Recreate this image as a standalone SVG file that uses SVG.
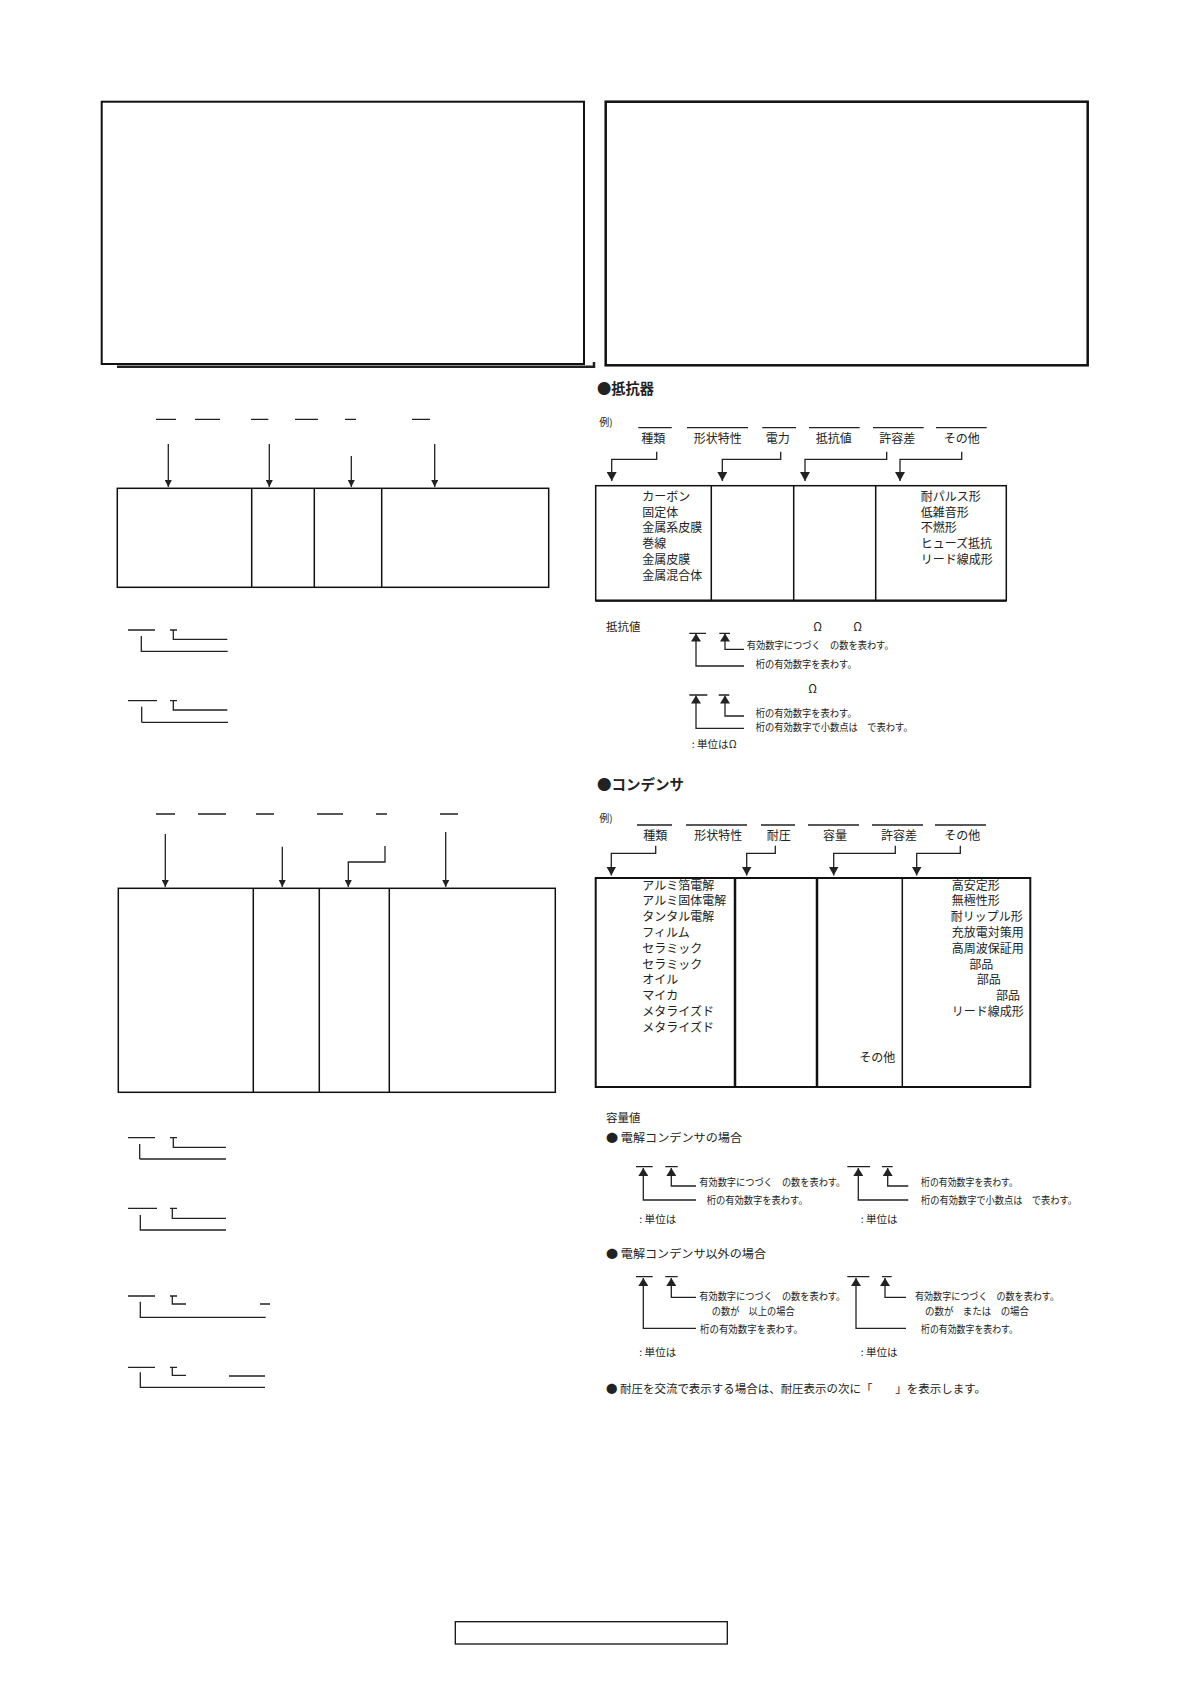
<svg xmlns="http://www.w3.org/2000/svg" width="1190" height="1684" viewBox="0 0 1190 1684">
<style>
text{font-family:"Noto Sans CJK JP","Noto Sans",sans-serif;fill:#222}
.t12{font-size:12px}
.t11{font-size:11.5px}
.s{font-size:10px}
.h{font-size:14.5px;font-weight:bold}
.ln{fill:none;stroke:#222;stroke-width:1.3}
.box{fill:none;stroke:#111}
</style>
<defs>
<marker id="aS" markerUnits="userSpaceOnUse" markerWidth="7" markerHeight="7" refX="7" refY="3.5" orient="auto"><path d="M0,0 L7,3.5 L0,7 z" fill="#222"/></marker>
<marker id="aM" markerUnits="userSpaceOnUse" markerWidth="9" markerHeight="10" refX="9" refY="5" orient="auto"><path d="M0,0 L9,5 L0,10 z" fill="#222"/></marker>
<marker id="aU" markerUnits="userSpaceOnUse" markerWidth="8" markerHeight="10" refX="8" refY="5" orient="auto"><path d="M0,0 L8,5 L0,10 z" fill="#222"/></marker>
</defs>
<rect width="1190" height="1684" fill="#fff"/>

<g id="frame-left">
<rect class="box" x="101.7" y="101.7" width="482.3" height="262.3" stroke-width="2"/>
<path d="M117,366.7 H594 V362" fill="none" stroke="#222" stroke-width="2.5"/>
</g>
<g id="frame-right">
<rect class="box" x="605.7" y="101.7" width="482" height="263.6" stroke-width="2.5"/>
</g>

<g id="left-table-1">
<rect class="box" x="117.3" y="488.3" width="431.4" height="99" stroke-width="1.5"/>
<path d="M251.7,488.3 V587.3 M314.3,488.3 V587.3 M381.7,488.3 V587.3" stroke="#111" stroke-width="1.5"/>
</g>
<g id="left-table-2">
<rect class="box" x="118.3" y="888.3" width="437" height="204" stroke-width="1.5"/>
<path d="M253.3,888.3 V1092.3 M319.3,888.3 V1092.3 M389.3,888.3 V1092.3" stroke="#111" stroke-width="1.5"/>
</g>

<g id="resistor-section">
<text class="h" x="597" y="394" textLength="57" lengthAdjust="spacingAndGlyphs">●抵抗器</text>
<text class="s" x="599.3" y="426">例)</text>
<g class="t12" text-anchor="middle">
<text x="653.3" y="442.5">種類</text>
<text x="717.7" y="442.5">形状特性</text>
<text x="777.7" y="442.5">電力</text>
<text x="833.7" y="442.5">抵抗値</text>
<text x="897.3" y="442.5">許容差</text>
<text x="961.7" y="442.5">その他</text>
</g>
</g>
<g id="resistor-table">
<rect class="box" x="595.7" y="485.7" width="410.6" height="115" stroke-width="1.5"/>
<path d="M595.7,600.7 H1006.3" stroke="#111" stroke-width="2.3"/>
<path d="M711.3,485.7 V600.7 M793.7,485.7 V600.7 M875.7,485.7 V600.7" stroke="#111" stroke-width="1.5"/>
<g class="t12">
<text x="642.3" y="501">カーボン</text>
<text x="642.3" y="516.7">固定体</text>
<text x="642.3" y="532.4">金属系皮膜</text>
<text x="642.3" y="548.1">巻線</text>
<text x="642.3" y="563.8">金属皮膜</text>
<text x="642.3" y="579.5">金属混合体</text>
<text x="920.7" y="501">耐パルス形</text>
<text x="920.7" y="516.7">低雑音形</text>
<text x="920.7" y="532.4">不燃形</text>
<text x="920.7" y="548.1">ヒューズ抵抗</text>
<text x="920.7" y="563.8">リード線成形</text>
</g>
</g>

<g id="resistor-value">
<text class="t11" x="606" y="630.5">抵抗値</text>
<text class="t11" x="813.3" y="630.5">Ω</text>
<text class="t11" x="853.3" y="630.5">Ω</text>
<text class="s" x="746.7" y="649" textLength="147" lengthAdjust="spacingAndGlyphs">有効数字につづく　の数を表わす。</text>
<text class="s" x="755.7" y="668" textLength="101" lengthAdjust="spacingAndGlyphs">桁の有効数字を表わす。</text>
<text class="t11" x="808.3" y="693">Ω</text>
<text class="s" x="755.7" y="716.5" textLength="101" lengthAdjust="spacingAndGlyphs">桁の有効数字を表わす。</text>
<text class="s" x="755.7" y="730.5" textLength="157" lengthAdjust="spacingAndGlyphs">桁の有効数字で小数点は　で表わす。</text>
<text class="s" x="691.7" y="747.5" textLength="45" lengthAdjust="spacingAndGlyphs">: 単位はΩ</text>
</g>

<g id="capacitor-section">
<text class="h" x="597" y="790" textLength="87" lengthAdjust="spacingAndGlyphs">●コンデンサ</text>
<text class="s" x="599.3" y="821.5">例)</text>
<g class="t12" text-anchor="middle">
<text x="655.3" y="840">種類</text>
<text x="718.3" y="840">形状特性</text>
<text x="778.7" y="840">耐圧</text>
<text x="835" y="840">容量</text>
<text x="899" y="840">許容差</text>
<text x="962.3" y="840">その他</text>
</g>
</g>
<g id="capacitor-table">
<rect class="box" x="595.7" y="878" width="434.6" height="209" stroke-width="2"/>
<path d="M735,878 V1087 M817,878 V1087" stroke="#111" stroke-width="2.5"/>
<path d="M902.3,878 V1087" stroke="#111" stroke-width="1.5"/>
<g class="t12">
<text x="642.3" y="889.5">アルミ箔電解</text>
<text x="642.3" y="905.3">アルミ固体電解</text>
<text x="642.3" y="921.1">タンタル電解</text>
<text x="642.3" y="936.9">フィルム</text>
<text x="642.3" y="952.7">セラミック</text>
<text x="642.3" y="968.5">セラミック</text>
<text x="642.3" y="984.3">オイル</text>
<text x="642.3" y="1000.1">マイカ</text>
<text x="642.3" y="1015.9">メタライズド</text>
<text x="642.3" y="1031.7">メタライズド</text>
<text x="859.3" y="1062">その他</text>
<text x="951.7" y="889.5">高安定形</text>
<text x="951.7" y="905.3">無極性形</text>
<text x="950.7" y="921.1">耐リップル形</text>
<text x="951.7" y="936.9">充放電対策用</text>
<text x="951.7" y="952.7">高周波保証用</text>
<text x="969.3" y="968.5">部品</text>
<text x="976.7" y="984.3">部品</text>
<text x="996" y="1000.1">部品</text>
<text x="951.7" y="1015.9">リード線成形</text>
</g>
</g>

<g id="capacitance-value">
<text class="t11" x="606" y="1121.5">容量値</text>
<text class="t11" x="606" y="1142" textLength="136" lengthAdjust="spacingAndGlyphs">● 電解コンデンサの場合</text>
<text class="s" x="699.3" y="1186" textLength="146" lengthAdjust="spacingAndGlyphs">有効数字につづく　の数を表わす。</text>
<text class="s" x="706.7" y="1204" textLength="101" lengthAdjust="spacingAndGlyphs">桁の有効数字を表わす。</text>
<text class="s" x="639.3" y="1223" textLength="37" lengthAdjust="spacingAndGlyphs">: 単位は</text>
<text class="s" x="921" y="1186" textLength="97" lengthAdjust="spacingAndGlyphs">桁の有効数字を表わす。</text>
<text class="s" x="921" y="1204" textLength="156" lengthAdjust="spacingAndGlyphs">桁の有効数字で小数点は　で表わす。</text>
<text class="s" x="860.7" y="1223" textLength="37" lengthAdjust="spacingAndGlyphs">: 単位は</text>
<text class="t11" x="606" y="1257.5" textLength="160" lengthAdjust="spacingAndGlyphs">● 電解コンデンサ以外の場合</text>
<text class="s" x="699.3" y="1299.5" textLength="146" lengthAdjust="spacingAndGlyphs">有効数字につづく　の数を表わす。</text>
<text class="s" x="711.7" y="1315" textLength="83" lengthAdjust="spacingAndGlyphs">の数が　以上の場合</text>
<text class="s" x="700" y="1333" textLength="103" lengthAdjust="spacingAndGlyphs">桁の有効数字を表わす。</text>
<text class="s" x="639.3" y="1356" textLength="37" lengthAdjust="spacingAndGlyphs">: 単位は</text>
<text class="s" x="915" y="1299.5" textLength="144" lengthAdjust="spacingAndGlyphs">有効数字につづく　の数を表わす。</text>
<text class="s" x="925" y="1315" textLength="104" lengthAdjust="spacingAndGlyphs">の数が　または　の場合</text>
<text class="s" x="921" y="1333" textLength="97" lengthAdjust="spacingAndGlyphs">桁の有効数字を表わす。</text>
<text class="s" x="860.7" y="1356" textLength="37" lengthAdjust="spacingAndGlyphs">: 単位は</text>
<text class="t11" x="606" y="1393" textLength="380" lengthAdjust="spacingAndGlyphs">● 耐圧を交流で表示する場合は、耐圧表示の次に「　　」を表示します。</text>
</g>

<g id="footer-box">
<rect class="box" x="455.3" y="1621.7" width="272" height="22.3" stroke-width="1.3"/>
</g>

<g id="connectors">
<path class="ln" stroke-width="1.2" d="M156,419.3 H176 M195,419.3 H220 M251,419.3 H268.3 M295,419.3 H318 M345,419.3 H356 M412,419.3 H430"/>
<path class="ln" stroke-width="1.5" marker-end="url(#aS)" d="M168.3,444 V487"/>
<path class="ln" stroke-width="1.5" marker-end="url(#aS)" d="M269.3,444 V487"/>
<path class="ln" stroke-width="1.5" marker-end="url(#aS)" d="M351.3,456 V487"/>
<path class="ln" stroke-width="2.5" marker-end="url(#aS)" d="M434.7,444 V487"/>
<path class="ln" d="M128,630 H155 M170,630 H177 M173.3,630 V639.3 H227.3 M141.3,636 V651.3 H227.7"/>
<path class="ln" d="M128,700.7 H157 M170,700.7 H177 M173.3,700.7 V710 H227.3 M141.7,722.3 H228"/>
<path class="ln" stroke-width="2.2" d="M141.7,706.7 V722.3"/>
<path class="ln" stroke-width="1.2" d="M156,814 H175 M198,814 H226 M256,814 H274 M317,814 H343 M376,814 H387 M440,814 H458"/>
<path class="ln" stroke-width="1.5" marker-end="url(#aS)" d="M165.3,834 V887"/>
<path class="ln" stroke-width="1.5" marker-end="url(#aS)" d="M282.3,846.7 V887"/>
<path class="ln" stroke-width="1.5" marker-end="url(#aS)" d="M385,846 V862 H348.3 V887"/>
<path class="ln" stroke-width="2.5" marker-end="url(#aS)" d="M445.7,832 V887"/>
<path class="ln" d="M128,1137.7 H155 M170,1137.7 H177 M173.3,1137.7 V1147.3 H226 M139.7,1144 V1159"/>
<path class="ln" stroke-width="2.2" d="M139.7,1159 H226"/>
<path class="ln" d="M128,1208.3 H157 M170,1208.3 H177 M172.3,1208.3 V1218.3 H226 M140.3,1215 V1230 H226"/>
<path class="ln" d="M128,1296 H155 M170,1296 H177 M172.3,1296 V1304 H186 M260,1304 H270 M140.3,1301.7 V1317.3 H265.7"/>
<path class="ln" d="M128,1367.3 H155 M170,1367.3 H177 M172.3,1367.3 V1375.3 H186 M140.3,1372.3 V1387.3 H265"/>
<path class="ln" stroke-width="2.4" d="M229,1376 H265"/>
<path class="ln" stroke-width="1.5" d="M638.3,427.7 H671.7 M687,427.7 H748 M762.3,427.7 H796 M809,427.7 H859.7"/>
<path class="ln" stroke-width="2.3" d="M873,427.7 H923.7 M936,427.7 H986.7"/>
<path class="ln" marker-end="url(#aM)" d="M656.7,451.7 V459.3 H611.7 V481"/>
<path class="ln" marker-end="url(#aM)" d="M780.7,451.7 V459.3 H722.3 V481"/>
<path class="ln" marker-end="url(#aM)" d="M886.7,451.7 V459.3 H805 V481"/>
<path class="ln" marker-end="url(#aM)" d="M961.7,451.7 V459.3 H900 V481"/>
<path class="ln" d="M689.3,633.3 H706 M719.3,633.3 H730 M689.3,695 H707.3 M718.7,695 H729.3"/>
<path class="ln" marker-end="url(#aU)" d="M744,649.3 H725 V633.5"/>
<path class="ln" marker-end="url(#aU)" d="M744,666 H696 V633.5"/>
<path class="ln" marker-end="url(#aU)" d="M744,716 H725 V695.5"/>
<path class="ln" marker-end="url(#aU)" d="M744,728.3 H696 V695.5"/>
<path class="ln" stroke-width="1.3" d="M637,825 H672 M686,825 H747 M872,825 H923 M935,825 H986"/>
<path class="ln" stroke-width="2.5" d="M761,825 H795 M808,825 H859"/>
<path class="ln" marker-end="url(#aM)" d="M655.7,845.7 V853.3 H611.3 V875.5"/>
<path class="ln" marker-end="url(#aM)" d="M775.3,845.7 V853.3 H746.7 V875.5"/>
<path class="ln" marker-end="url(#aM)" d="M895.3,845.7 V853.3 H833.7 V875.5"/>
<path class="ln" marker-end="url(#aM)" d="M960.3,845.7 V853.3 H916.7 V875.5"/>
<path class="ln" stroke-width="2.5" d="M636,1166.7 H652.7 M665.3,1166.7 H677.7 M847.3,1166.7 H870 M882,1166.7 H892.7"/>
<path class="ln" marker-end="url(#aU)" d="M696,1186 H671.3 V1168"/>
<path class="ln" marker-end="url(#aU)" d="M696,1200 H643.3 V1168"/>
<path class="ln" marker-end="url(#aU)" d="M908.3,1186 H887.7 V1168"/>
<path class="ln" marker-end="url(#aU)" d="M908.3,1200 H858.3 V1168"/>
<path class="ln" stroke-width="2.5" d="M636,1276.7 H652.7 M665.3,1276.7 H677.7"/>
<path class="ln" d="M847.3,1276.7 H869.3 M882,1276.7 H891.7"/>
<path class="ln" marker-end="url(#aU)" d="M696,1297.3 H671.3 V1278"/>
<path class="ln" marker-end="url(#aU)" d="M696,1328.3 H643.3 V1278"/>
<path class="ln" marker-end="url(#aU)" d="M906,1297.3 H885 V1278"/>
<path class="ln" marker-end="url(#aU)" d="M906,1328.3 H856 V1278"/>
</g>
</svg>
